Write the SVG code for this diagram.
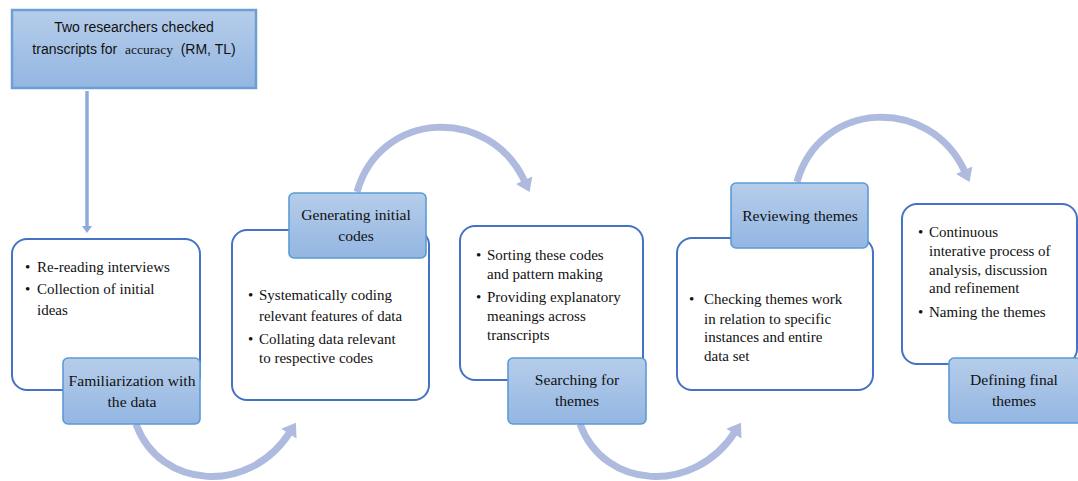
<svg xmlns="http://www.w3.org/2000/svg" width="1078" height="481" viewBox="0 0 1078 481">
<defs>
<linearGradient id="lg" x1="0" y1="0" x2="0" y2="1">
<stop offset="0" stop-color="#b6cdea"/>
<stop offset="1" stop-color="#93b6e2"/>
</linearGradient>
<marker id="ah" markerUnits="userSpaceOnUse" markerWidth="20" markerHeight="20" refX="2" refY="0" viewBox="-2 -10 20 20" orient="auto" overflow="visible">
<path d="M0,-9 L13,0 L0,9 z" fill="#aebbdf"/>
</marker>
<marker id="sa" markerUnits="userSpaceOnUse" markerWidth="12" markerHeight="12" refX="0" refY="0" viewBox="-1 -6 12 12" orient="auto" overflow="visible">
<path d="M0,-5 L7,0 L0,5 z" fill="#8eaadb"/>
</marker>
</defs>
<style>
.card{fill:#fff;stroke:#4472c4;stroke-width:2}
.lab{fill:url(#lg);stroke:#5b9bd5;stroke-width:1.6}
.arc{fill:none;stroke:#aebbdf;stroke-width:7;marker-end:url(#ah)}
.t{font-family:"Liberation Serif","Times New Roman",serif;font-size:15px;fill:#111}
.L{font-size:15.6px}
.c{text-anchor:middle}
.s{font-family:"Liberation Sans",Arial,sans-serif;font-size:14px;fill:#111}
</style>
<g id="connectors">
<line x1="87" y1="91" x2="87" y2="226" stroke="#8eaadb" stroke-width="3.5" marker-end="url(#sa)"/>
<path class="arc" d="M136,424 C160,490 250,495 290,432"/>
<path class="arc" d="M357,192 C380,110 490,105 525,182"/>
<path class="arc" d="M580,424 C604,490 694,495 735,432"/>
<path class="arc" d="M797,182 C820,100 930,95 965,172"/>
</g>
<g id="n0">
<rect x="12" y="10" width="244" height="78" fill="url(#lg)" stroke="#6d9fd6" stroke-width="2.5"/>
<text class="s c" x="134" y="32">Two researchers checked</text>
<text class="s c" x="134" y="54" xml:space="preserve">transcripts for  <tspan font-family="Liberation Serif,serif" font-size="13.5">accuracy</tspan>  (RM, TL)</text>
</g>
<g id="n1">
<rect class="card" x="12" y="239" width="188" height="151" rx="15"/>
<text class="t" x="25" y="272">•</text><text class="t" x="37" y="272">Re-reading interviews</text>
<text class="t" x="25" y="294">•</text><text class="t" x="37" y="294">Collection of initial</text>
<text class="t" x="37" y="315">ideas</text>
<rect class="lab" x="63" y="358" width="137" height="66" rx="5"/>
<text class="t L c" x="132" y="386">Familiarization with</text>
<text class="t L c" x="132" y="407">the data</text>
</g>
<g id="n2">
<rect class="card" x="232" y="230" width="197" height="170" rx="15"/>
<text class="t" x="248" y="300">•</text><text class="t" x="259" y="300">Systematically coding</text>
<text class="t" x="259" y="321" textLength="143" lengthAdjust="spacingAndGlyphs">relevant features of data</text>
<text class="t" x="248" y="344">•</text><text class="t" x="259" y="344">Collating data relevant</text>
<text class="t" x="259" y="363">to respective codes</text>
<rect class="lab" x="289" y="193" width="137" height="65" rx="5"/>
<text class="t L c" x="356" y="220">Generating initial</text>
<text class="t L c" x="356" y="241">codes</text>
</g>
<g id="n3">
<rect class="card" x="460" y="226" width="183" height="154" rx="15"/>
<text class="t" x="476" y="260">•</text><text class="t" x="487" y="260">Sorting these codes</text>
<text class="t" x="487" y="279">and pattern making</text>
<text class="t" x="476" y="302">•</text><text class="t" x="487" y="302">Providing explanatory</text>
<text class="t" x="487" y="321">meanings across</text>
<text class="t" x="487" y="340">transcripts</text>
<rect class="lab" x="508" y="358" width="138" height="66" rx="5"/>
<text class="t L c" x="577" y="385">Searching for</text>
<text class="t L c" x="577" y="406">themes</text>
</g>
<g id="n4">
<rect class="card" x="677" y="238" width="196" height="152" rx="15"/>
<text class="t" x="689" y="304">•</text><text class="t" x="704" y="304">Checking themes work</text>
<text class="t" x="704" y="324">in relation to specific</text>
<text class="t" x="704" y="342">instances and entire</text>
<text class="t" x="704" y="361">data set</text>
<rect class="lab" x="731" y="183" width="137" height="65" rx="5"/>
<text class="t L c" x="800" y="221">Reviewing themes</text>
</g>
<g id="n5">
<rect class="card" x="902" y="204" width="175" height="160" rx="15"/>
<text class="t" x="918" y="237">•</text><text class="t" x="929" y="237">Continuous</text>
<text class="t" x="929" y="256">interative process of</text>
<text class="t" x="929" y="275">analysis, discussion</text>
<text class="t" x="929" y="293">and refinement</text>
<text class="t" x="918" y="317">•</text><text class="t" x="929" y="317">Naming the themes</text>
<rect class="lab" x="949" y="358" width="135" height="65" rx="5"/>
<text class="t L c" x="1014" y="385">Defining final</text>
<text class="t L c" x="1014" y="406">themes</text>
</g>
</svg>
